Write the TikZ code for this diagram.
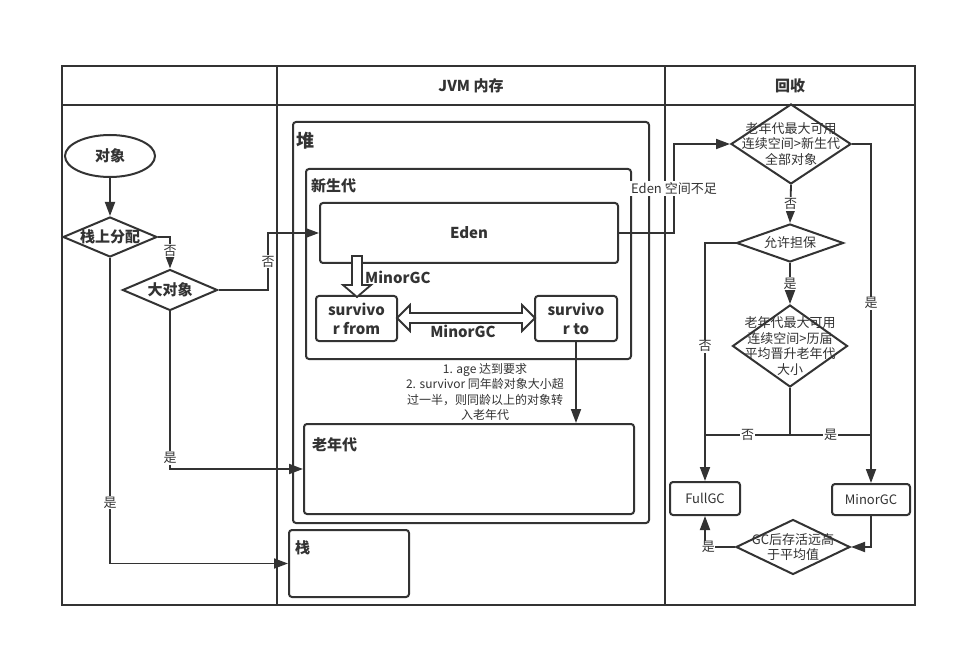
\documentclass[tikz,border=0pt]{standalone}
\usepackage{fontspec}
\setmainfont{Noto Sans CJK SC}
\usetikzlibrary{shapes.geometric,arrows.meta}
\definecolor{ln}{HTML}{333333}
\begin{document}
\begin{tikzpicture}[x=1pt,y=-1pt,
  every node/.style={text=ln},
  base/.style={draw=ln,line width=2pt},
  rbox/.style={base,rounded corners=3pt,inner sep=0pt},
  fb/.style={font=\fontsize{15}{17}\selectfont\bfseries},
  fn/.style={font=\fontsize{13}{15.5}\selectfont},
  fs/.style={font=\fontsize{12}{15.5}\selectfont},
  dia/.style={base,diamond,inner sep=0pt,fill=white},
  line/.style={draw=ln,line width=1.8pt},
  conn/.style={line,-{Triangle[length=14pt,width=10pt]}},
  lab/.style={fn,fill=white,inner sep=1pt},
  hollow/.style={draw=ln,line width=1.8pt,fill=white,line join=miter}
]
\useasboundingbox (0,0) rectangle (977,668);
\fill[white] (0,0) rectangle (977,668);

% swimlanes
\draw[base] (62,66) rectangle (915,605);
\draw[base] (62,105) -- (915,105);
\draw[base] (277,66) -- (277,605);
\draw[base] (665,66) -- (665,605);
\node[font=\fontsize{15}{17}\selectfont\bfseries] (h1) at (471,86) {JVM 内存};
\node[font=\fontsize{15}{17}\selectfont\bfseries] (h2) at (790,86) {回收};

% heap containers
\node[rbox,minimum width=356pt,minimum height=401pt] (heap) at (471,322.5) {};
\node[fb,font=\fontsize{18}{20}\selectfont\bfseries,anchor=west,inner sep=0pt] (heapT) at (296,141) {堆};
\node[rbox,minimum width=325pt,minimum height=190pt] (young) at (468.5,264) {};
\node[fb,anchor=west,inner sep=0pt] (youngT) at (311,186) {新生代};
\node[rbox,fb,minimum width=298pt,minimum height=60pt] (eden) at (469,233) {Eden};
\node[rbox,fb,minimum width=81pt,minimum height=45pt,align=center,font=\fontsize{15}{19}\selectfont\bfseries] (sfrom) at (356.5,318.5) {survivo\\r from};
\node[rbox,fb,minimum width=82pt,minimum height=45pt,align=center,font=\fontsize{15}{19}\selectfont\bfseries] (sto) at (576,318.5) {survivo\\r to};
\node[rbox,minimum width=330pt,minimum height=90pt] (old) at (469,469) {};
\node[fb,anchor=west,inner sep=0pt] (oldT) at (312,445) {老年代};
\node[rbox,minimum width=120pt,minimum height=67pt] (zhan) at (349,563.5) {};
\node[fb,anchor=west,inner sep=0pt] (zhanT) at (295,548) {栈};

% hollow arrows
\draw[hollow] (352,256) -- (362,256) -- (362,285) -- (371,285) -- (357,297) -- (343,285) -- (352,285) -- cycle;
\node[fb,anchor=west,inner sep=0pt] (mg1) at (365,277) {MinorGC};
\draw[hollow] (397,318) -- (410,305) -- (410,313) -- (522,313) -- (522,305) -- (535,318) -- (522,331) -- (522,323) -- (410,323) -- (410,331) -- cycle;
\node[fb,inner sep=0pt] (mg2) at (463,331) {MinorGC};

% left column
\node[base,ellipse,fb,minimum width=90pt,minimum height=42pt,inner sep=0pt] (obj) at (110,156) {对象};
\node[dia,minimum width=94pt,minimum height=40pt,label={[fb]center:栈上分配}] (stk) at (110,237) {};
\node[dia,minimum width=95pt,minimum height=41pt,label={[fb]center:大对象}] (big) at (170,290) {};

\coordinate (c1) at (268,290);
\coordinate (c2) at (268,233);
\draw[conn] (obj.south) -- (stk.north);
\draw[conn] (stk.east) -| node[lab,pos=0.72] {否} (big.north);
\draw[conn] (big.east) -- (c1) -- node[lab,pos=0.5] {否} (c2) -- (eden.west);
\draw[conn] (big.south) |- node[lab,pos=0.465] {是} (old.west);
\draw[conn] (stk.south) |- node[lab,pos=0.4] {是} (zhan.west);

% survivor to old
\draw[conn] (sto.south) -- (sto.south |- old.north);
\node[fs,align=center,inner sep=0pt] (agetxt) at (485,392) {1. age 达到要求\\2. survivor 同年龄对象大小超\\过一半，则同龄以上的对象转\\入老年代};

% right column
\node[dia,minimum width=120pt,minimum height=80pt,label={[fn,align=center]center:老年代最大可用\\连续空间>新生代\\全部对象}] (d1) at (791,144) {};
\node[dia,minimum width=107pt,minimum height=38pt,label={[fn]center:允许担保}] (d2) at (790,243) {};
\node[dia,minimum width=115pt,minimum height=82pt,label={[fn,align=center]center:老年代最大可用\\连续空间>历届\\平均晋升老年代\\大小}] (d3) at (790,346) {};
\node[rbox,fn,minimum width=70pt,minimum height=33pt] (full) at (705,498.5) {FullGC};
\node[rbox,fn,minimum width=78pt,minimum height=31pt] (minor) at (871,499.5) {MinorGC};
\node[dia,minimum width=114pt,minimum height=55pt,label={[fn,align=center]center:GC后存活远高\\于平均值}] (d4) at (793,547) {};

\coordinate (e1) at (674,233);
\coordinate (j1) at (790,435);
\coordinate (jl) at (705,435);
\coordinate (jr) at (871,435);
\draw[conn] (eden.east) -- (e1) |- node[lab,pos=0.25] {Eden 空间不足} (d1.west);
\draw[conn] (d1.south) -- node[lab] {否} (d2.north);
\draw[conn] (d2.south) -- node[lab] {是} (d3.north);
\draw[conn] (d2.west) -| node[lab,pos=0.717] {否} (full.north);
\draw[conn] (d1.east) -| node[lab,pos=0.735] {是} (minor.north);
\draw[line] (d3.south) -- (j1) -- node[lab] {否} (jl);
\draw[line] (j1) -- node[lab] {是} (jr);
\draw[conn] (minor.south) |- (d4.east);
\draw[conn] (d4.west) -| node[lab,pos=0.5,anchor=west,inner sep=0pt,xshift=-4pt] {是} (full.south);
\end{tikzpicture}
\end{document}
